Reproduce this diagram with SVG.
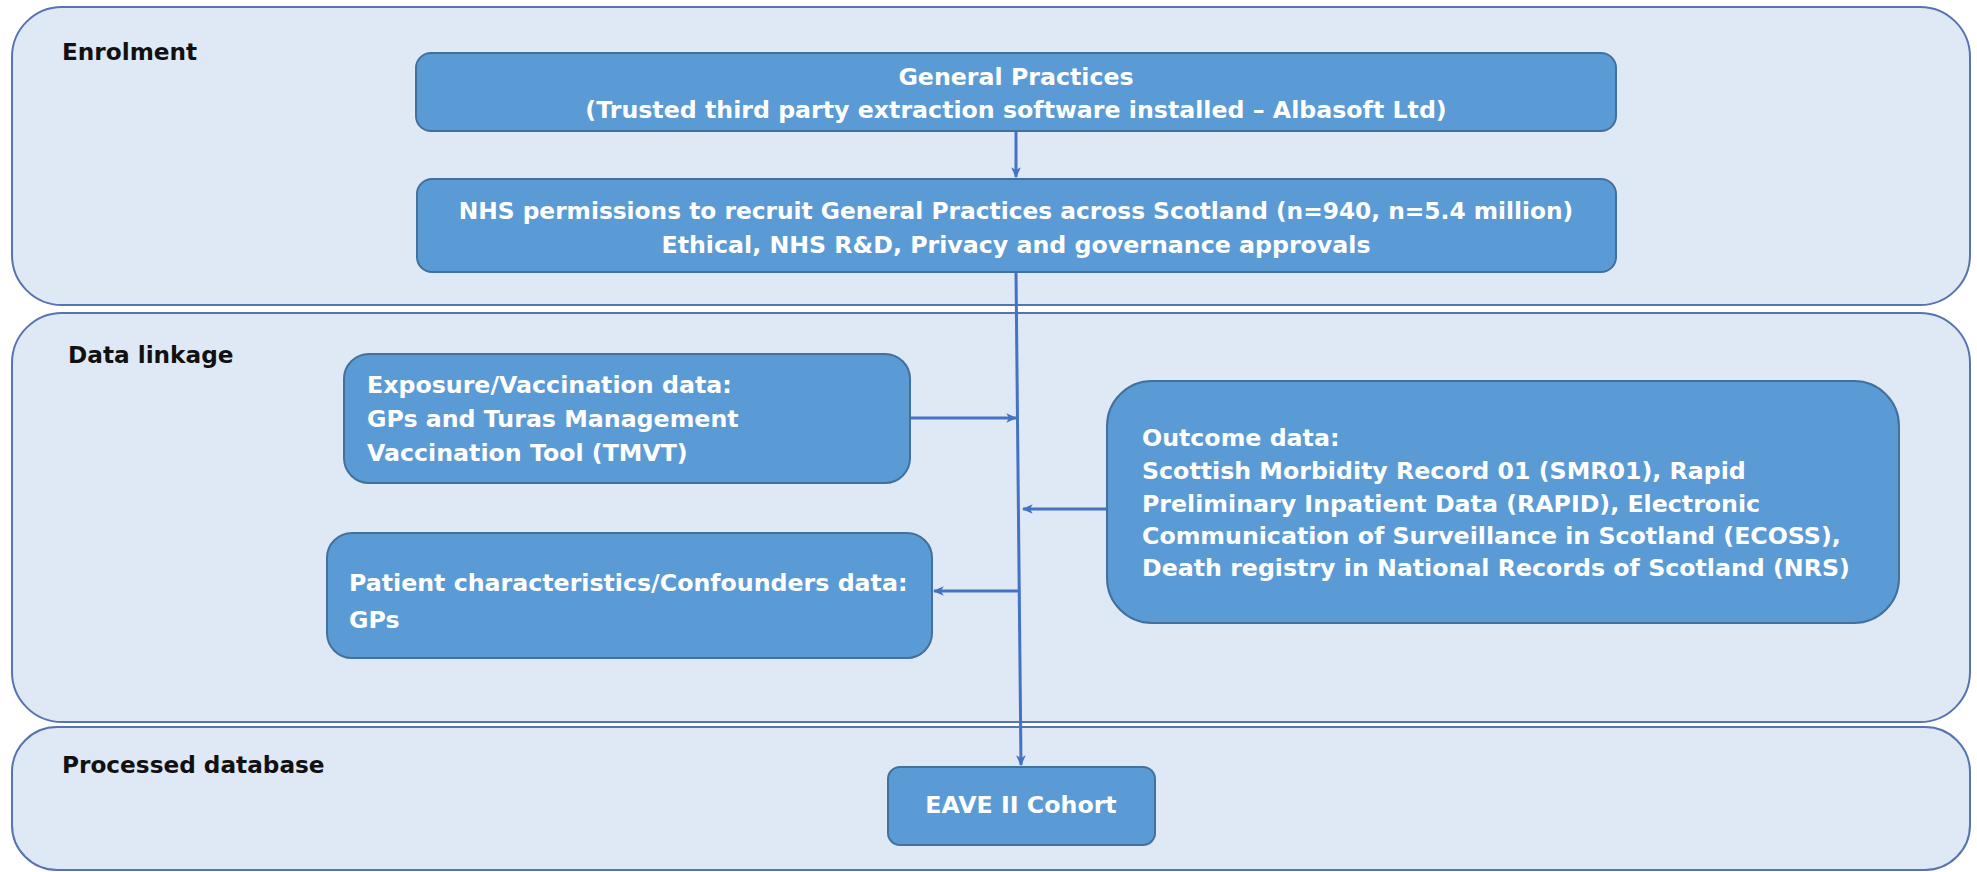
<svg xmlns="http://www.w3.org/2000/svg" width="1977" height="872" viewBox="0 0 1977 872">
<style>
.panel{fill:#dfe8f5;stroke:#5674b0;stroke-width:2}
.box{fill:#5b9bd5;stroke:#41719c;stroke-width:2}
.lbl{font-family:"DejaVu Sans","Liberation Sans",sans-serif;font-weight:bold;font-size:23.2px;fill:#111}
.t{font-family:"DejaVu Sans","Liberation Sans",sans-serif;font-weight:bold;font-size:23.7px;fill:#fff}
.c{text-anchor:middle}
.conn{stroke:#4472c4;stroke-width:3;fill:none}
</style>
<defs>
<marker id="ah" viewBox="0 0 10 10" refX="9" refY="5" markerWidth="3.6" markerHeight="3.6" orient="auto" markerUnits="strokeWidth">
<path d="M0,0.5 L10,5 L0,9.5 L2.5,5 Z" fill="#4472c4"/>
</marker>
</defs>
<g id="panel-enrolment">
<rect class="panel" x="12" y="7" width="1958" height="298" rx="50"/>
<text class="lbl" x="62" y="60">Enrolment</text>
</g>
<g id="panel-linkage">
<rect class="panel" x="12" y="313" width="1958" height="409" rx="50"/>
<text class="lbl" x="68" y="363">Data linkage</text>
</g>
<g id="panel-processed">
<rect class="panel" x="12" y="727" width="1958" height="143" rx="45"/>
<text class="lbl" x="62" y="773">Processed database</text>
</g>
<g id="connectors">
<line class="conn" x1="1016" y1="131" x2="1016" y2="177" marker-end="url(#ah)"/>
<line class="conn" x1="1016" y1="272" x2="1021" y2="765" marker-end="url(#ah)"/>
<line class="conn" x1="911" y1="418" x2="1016" y2="418" marker-end="url(#ah)"/>
<line class="conn" x1="1107" y1="509" x2="1023" y2="509" marker-end="url(#ah)"/>
<line class="conn" x1="1019" y1="591" x2="934" y2="591" marker-end="url(#ah)"/>
</g>
<g id="node-gp">
<rect class="box" x="416" y="53" width="1200" height="78" rx="15"/>
<text class="t c" x="1016" y="85">General Practices</text>
<text class="t c" x="1016" y="118">(Trusted third party extraction software installed – Albasoft Ltd)</text>
</g>
<g id="node-nhs">
<rect class="box" x="417" y="179" width="1199" height="93" rx="15"/>
<text class="t c" x="1016" y="219" style="font-size:23.3px">NHS permissions to recruit General Practices across Scotland (n=940, n=5.4 million)</text>
<text class="t c" x="1016" y="253">Ethical, NHS R&amp;D, Privacy and governance approvals</text>
</g>
<g id="node-exposure">
<rect class="box" x="344" y="354" width="566" height="129" rx="25"/>
<text class="t" x="367" y="393">Exposure/Vaccination data:</text>
<text class="t" x="367" y="427">GPs and Turas Management</text>
<text class="t" x="367" y="461">Vaccination Tool (TMVT)</text>
</g>
<g id="node-patient">
<rect class="box" x="327" y="533" width="605" height="125" rx="25"/>
<text class="t" x="349" y="591">Patient characteristics/Confounders data:</text>
<text class="t" x="349" y="628">GPs</text>
</g>
<g id="node-outcome">
<rect class="box" x="1107" y="381" width="792" height="242" rx="45"/>
<text class="t" x="1142" y="446">Outcome data:</text>
<text class="t" x="1142" y="479">Scottish Morbidity Record 01 (SMR01), Rapid</text>
<text class="t" x="1142" y="512">Preliminary Inpatient Data (RAPID), Electronic</text>
<text class="t" x="1142" y="544">Communication of Surveillance in Scotland (ECOSS),</text>
<text class="t" x="1142" y="576">Death registry in National Records of Scotland (NRS)</text>
</g>
<g id="node-eave">
<rect class="box" x="888" y="767" width="267" height="78" rx="12"/>
<text class="t c" x="1021" y="813">EAVE II Cohort</text>
</g>
</svg>
